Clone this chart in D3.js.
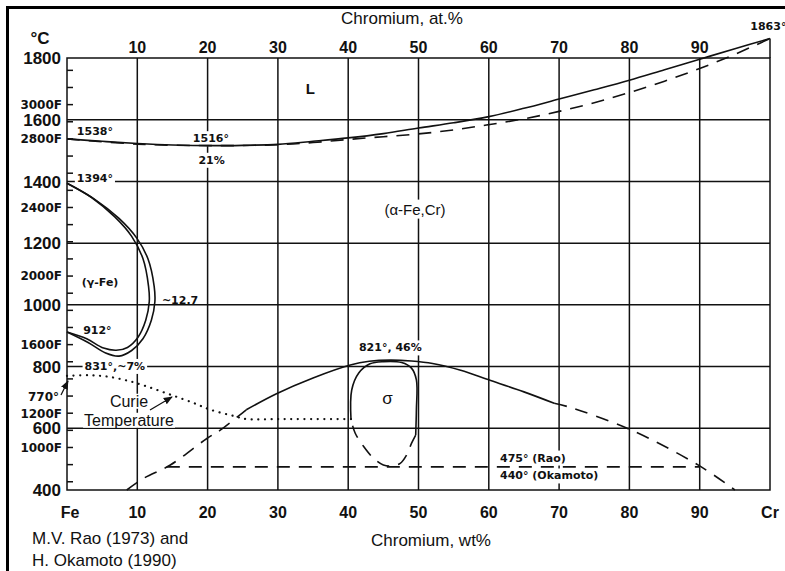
<!DOCTYPE html>
<meta charset="utf-8">
<head>
<style>
html, body {margin:0px; padding:0px; background:white;}
svg text {font-family: "Liberation Sans", Arial, sans-serif; fill:#111;}
.note {font-family: "DejaVu Sans", sans-serif; font-size: 11px; font-weight: bold;}
.ctick {font-size: 17px; font-weight: bold;}
.ftick {font-family: "DejaVu Sans", sans-serif; font-size: 12px; font-weight: bold;}
.axis {font-size: 16px; font-weight: bold;}
.label {font-size: 15px;}
.title {font-size: 17px;}
.curie {font-size: 16px;}
</style>
</head>
<body>
<div id="my_dataviz"></div>
<script src="https://d3js.org/d3.v7.min.js"></script>
<script>

// tick values / labels
var wtGrid = [10, 20, 30, 40, 50, 60, 70, 80, 90]
var atLabels = [10, 20, 30, 40, 50, 60, 70, 80, 90]
var tempLabels = [400, 600, 800, 1000, 1200, 1400, 1600, 1800]
var tempGrid = [600, 800, 1000, 1200, 1400, 1600]
var fLabels = [3000, 2800, 2400, 2000, 1600, 1200, 1000]
var fTicks = [800, 900, 1000, 1100, 1200, 1300, 1400, 1500, 1600, 1700, 1800, 1900, 2000,
              2100, 2200, 2300, 2400, 2500, 2600, 2700, 2800, 2900, 3000, 3100, 3200]

// curves, [wt% Cr, deg C]
var liquidus = [[0,1538],[5,1530],[10,1523],[15,1518],[21,1516],[25,1517],[30,1520],[35,1530],
  [40,1541],[45,1555],[50,1573],[55,1590],[60,1610],[65,1637],[70,1667],[75,1697],[80,1728],
  [85,1762],[90,1796],[95,1830],[100,1863]]
var solidus = [[0,1538],[10,1521],[21,1516],[30,1519],[35,1526],[40,1536],[45,1545],[50,1554],
  [55,1567],[60,1584],[65,1603],[70,1627],[75,1655],[80,1688],[85,1725],[90,1766],[95,1812],[100,1863]]
var gammaInner = [[0,1394],[3.5,1348],[6.8,1285],[9.2,1222],[10.8,1150],[11.6,1060],[11.7,1010],
  [11.2,950],[10.1,895],[8.6,862],[7,853],[5.2,860],[2.8,890],[0,912]]
var gammaOuter = [[0,1394],[4,1341],[7.4,1280],[9.9,1217],[11.5,1150],[12.4,1060],[12.5,1010],
  [12.0,950],[10.8,890],[9.2,852],[7.4,834],[5.5,844],[3,878],[0,912]]
var curie = [[0,770],[3,772],[5.6,768],[8.5,755],[11.3,736],[14.7,709],[18,682],[20.3,661],
  [23.7,640],[25.5,630],[30,630],[35,630],[40.4,630]]
var sigmaSolid = [[40.4,627],[40.5,724],[41.5,779],[43.1,809],[45,816],[47.6,813],[49,795],
  [49.7,757],[49.7,660],[49.6,578]]
var sigmaDashed = [[49.6,578],[49.0,551],[48.3,513],[47.4,486],[46.2,478],[45,481],[43.6,503],
  [42.2,541],[41,584],[40.4,627]]
var domeLeft = [[8.5,400],[10.9,438],[14.7,481],[19.9,567],[21.8,594],[25.5,660]]
var domeSolid = [[25.5,660],[29.8,712],[35,763],[40.3,805],[43,817],[46,821],[49,818],[52,810],
  [56,788],[60,757],[65,718],[69.3,681]]
var domeRight = [[69.3,681],[71.1,671],[80,597],[90,478],[95,400]]
var miscibility = [[14.2,475],[90,475]]

var width = 785, height = 571

var svg = d3.select("#my_dataviz")
  .append("svg")
    .attr("width", width)
    .attr("height", height)

var x = d3.scaleLinear().domain([0, 100]).range([67, 770])
var y = d3.scaleLinear().domain([400, 1800]).range([490, 58])
var f2c = function(f) { return (f - 32) * 5 / 9 }

// outer frame (only top + left are inside the picture)
svg.append("rect")
  .attr("x", 7.5).attr("y", 7.5)
  .attr("width", 820).attr("height", 620)
  .attr("fill", "none").attr("stroke", "#000").attr("stroke-width", 3)

var grid = svg.append("g").attr("stroke", "#111").attr("stroke-width", 1.5)

grid.selectAll(".vg").data(wtGrid).enter().append("line")
  .attr("x1", d => x(d)).attr("x2", d => x(d))
  .attr("y1", y(1800)).attr("y2", y(400))
grid.selectAll(".hg").data(tempGrid).enter().append("line")
  .attr("x1", x(0)).attr("x2", x(100))
  .attr("y1", d => y(d)).attr("y2", d => y(d))
grid.append("rect")
  .attr("x", x(0)).attr("y", y(1800))
  .attr("width", x(100) - x(0)).attr("height", y(400) - y(1800))
  .attr("fill", "none")
// Cr edge goes up to the melting point
grid.append("line")
  .attr("x1", x(100)).attr("x2", x(100))
  .attr("y1", y(1863)).attr("y2", y(1800))

// Fahrenheit ticks
grid.selectAll(".ft").data(fTicks).enter().append("line")
  .attr("x1", x(0)).attr("x2", x(0) + 6)
  .attr("y1", d => y(f2c(d))).attr("y2", d => y(f2c(d)))

// axis labels
svg.selectAll(".cl").data(tempLabels).enter().append("text")
  .attr("class", "ctick")
  .attr("x", 61).attr("y", d => y(d)).attr("dy", "0.36em")
  .attr("text-anchor", "end")
  .text(d => d)
svg.append("text").attr("class", "ctick")
  .attr("x", 40).attr("y", 38).attr("dy", "0.36em")
  .attr("text-anchor", "middle").text("°C")
svg.selectAll(".fl").data(fLabels).enter().append("text")
  .attr("class", "ftick")
  .attr("x", 62).attr("y", d => y(f2c(d))).attr("dy", "0.36em")
  .attr("text-anchor", "end")
  .text(d => d + "F")

svg.selectAll(".tl").data(atLabels).enter().append("text")
  .attr("class", "axis")
  .attr("x", d => x(d)).attr("y", 47).attr("dy", "0.36em")
  .attr("text-anchor", "middle")
  .text(d => d)
svg.append("text").attr("class", "title")
  .attr("x", 402).attr("y", 18).attr("dy", "0.36em")
  .attr("text-anchor", "middle").text("Chromium, at.%")

var bottomLabels = ["Fe"].concat(wtGrid).concat(["Cr"])
svg.selectAll(".bl").data(bottomLabels).enter().append("text")
  .attr("class", "axis")
  .attr("x", (d, i) => x(i * 10) + (i == 0 ? 3 : 0))
  .attr("y", 512).attr("dy", "0.36em")
  .attr("text-anchor", "middle")
  .text(d => d)
svg.append("text").attr("class", "title")
  .attr("x", 431).attr("y", 540).attr("dy", "0.36em")
  .attr("text-anchor", "middle").text("Chromium, wt%")
svg.append("text").attr("class", "title")
  .attr("x", 32).attr("y", 538).attr("dy", "0.36em").text("M.V. Rao (1973) and")
svg.append("text").attr("class", "title")
  .attr("x", 32).attr("y", 560).attr("dy", "0.36em").text("H. Okamoto (1990)")

// labels inside the plot: [text, wt, degC, anchor, class, white background]
var notes = [
  ["1538°", 1.4, 1563, "start", "note", false],
  ["1516°", 17.9, 1540, "start", "note", true],
  ["21%", 18.7, 1470, "start", "note", true],
  ["1394°", 1.4, 1412, "start", "note", true],
  ["(γ-Fe)", 2.1, 1074, "start", "note", false],
  ["~12.7", 13.5, 1017, "start", "note", false],
  ["912°", 2.3, 920, "start", "note", false],
  ["831°,~7%", 2.5, 802, "start", "note", true],
  ["821°, 46%", 46.0, 862, "middle", "note", true],
  ["475° (Rao)", 61.6, 505, "start", "note", true],
  ["440° (Okamoto)", 61.6, 447, "start", "note", true],
  ["1863°", 97.2, 1903, "start", "note", false],
  ["(α-Fe,Cr)", 49.5, 1310, "middle", "label", true]
]
var bgLayer = svg.append("g")
var curveLayer = svg.append("g")
var textLayer = svg.append("g")

notes.forEach(function(n) {
  var t = textLayer.append("text")
    .attr("class", n[4])
    .attr("x", x(n[1])).attr("y", y(n[2])).attr("dy", "0.36em")
    .attr("text-anchor", n[3])
    .text(n[0])
  if (n[5]) {
    var b = t.node().getBBox()
    bgLayer.append("rect")
      .attr("x", b.x - 2).attr("y", b.y - 1)
      .attr("width", b.width + 4).attr("height", b.height + 2)
      .attr("fill", "white")
  }
})

textLayer.append("text").attr("class", "ftick")
  .attr("x", 28).attr("y", 397).attr("dy", "0.36em").text("770°")
textLayer.append("text")
  .attr("x", x(45.6)).attr("y", y(700)).attr("dy", "0.36em")
  .attr("text-anchor", "middle")
  .style("font-size", "17px")
  .text("σ")
textLayer.append("text")
  .attr("x", x(34.6)).attr("y", y(1700)).attr("dy", "0.36em")
  .attr("text-anchor", "middle")
  .style("font-size", "15px").style("font-weight", "bold")
  .text("L")

var curieText = [["Curie", 401], ["Temperature", 420]]
curieText.forEach(function(c) {
  var t = textLayer.append("text").attr("class", "curie")
    .attr("x", 129).attr("y", c[1]).attr("dy", "0.36em")
    .attr("text-anchor", "middle").text(c[0])
  var b = t.node().getBBox()
  bgLayer.append("rect")
    .attr("x", b.x - 1).attr("y", b.y + 1)
    .attr("width", b.width + 2).attr("height", b.height - 2)
    .attr("fill", "white")
})

// phase boundaries
var line = d3.line()
  .x(d => x(d[0])).y(d => y(d[1]))
  .curve(d3.curveCatmullRom.alpha(0.5))

var solidCurves = [liquidus, gammaInner, gammaOuter, sigmaSolid, domeSolid]
var dashedCurves = [solidus, sigmaDashed, domeLeft, domeRight, miscibility]

curveLayer.selectAll(".solid").data(solidCurves).enter().append("path")
  .attr("d", line)
  .attr("fill", "none").attr("stroke", "#111").attr("stroke-width", 1.6)
curveLayer.selectAll(".dashed").data(dashedCurves).enter().append("path")
  .attr("d", line)
  .attr("fill", "none").attr("stroke", "#111").attr("stroke-width", 1.6)
  .attr("stroke-dasharray", "13,9")
curveLayer.append("path")
  .attr("d", line(curie))
  .attr("fill", "none").attr("stroke", "#111").attr("stroke-width", 2.2)
  .attr("stroke-linecap", "round")
  .attr("stroke-dasharray", "0.1,6.5")

// arrows
svg.append("defs").append("marker")
  .attr("id", "arr").attr("viewBox", "0 0 10 10")
  .attr("refX", 9).attr("refY", 5)
  .attr("markerWidth", 7).attr("markerHeight", 7)
  .attr("orient", "auto")
  .append("path").attr("d", "M0,1L10,5L0,9Z").attr("fill", "#111")

var arrows = [[[61, 395], [68, 381]], [[150, 410], [172, 397]]]
curveLayer.selectAll(".arrow").data(arrows).enter().append("line")
  .attr("x1", d => d[0][0]).attr("y1", d => d[0][1])
  .attr("x2", d => d[1][0]).attr("y2", d => d[1][1])
  .attr("stroke", "#111").attr("stroke-width", 1.3)
  .attr("marker-end", "url(#arr)")

</script>
</body>
</html>
